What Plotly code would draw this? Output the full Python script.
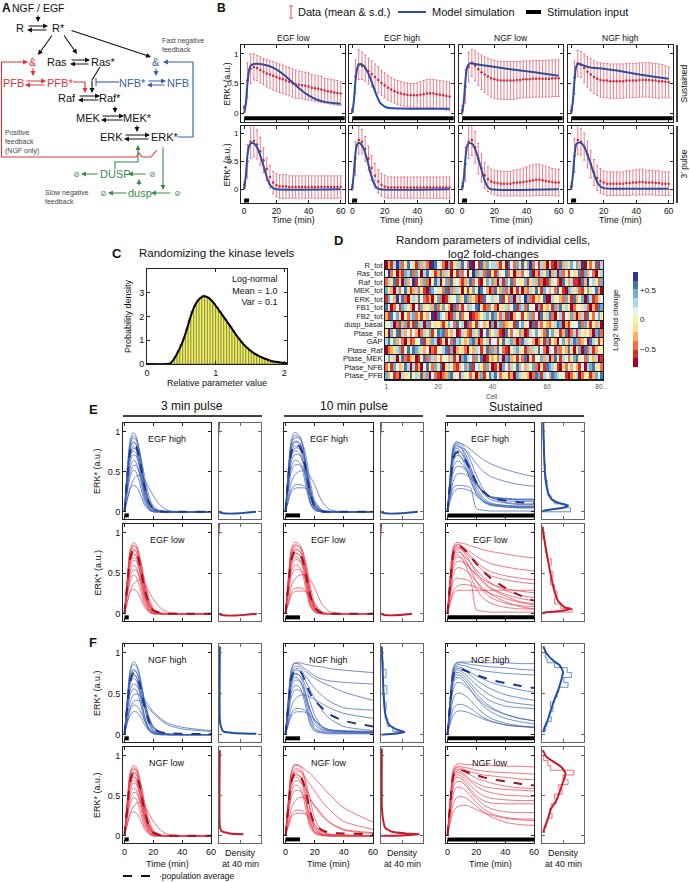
import plotly.graph_objects as go

W, H = 690, 882
FONT = "Liberation Sans, Arial, DejaVu Sans, sans-serif"

# ======================= Panel B data =======================
B_T = [0, 2, 4, 6, 8, 10, 12, 14, 16, 18, 20, 22, 24, 26, 28, 30, 32, 34, 36, 38, 40, 42, 44, 46, 48, 50, 52, 54, 56, 58, 60]
B_COL_TITLES = ["EGF low", "EGF high", "NGF low", "NGF high"]
B_ROW_TITLES = ["Sustained", "3' pulse"]

B_EGF_LOW_SUST_MEAN = [0.10, 0.55, 0.75, 0.78, 0.76, 0.73, 0.70, 0.67, 0.65, 0.63, 0.61, 0.59, 0.57, 0.55, 0.53, 0.51, 0.49, 0.48, 0.47, 0.46, 0.45, 0.43, 0.42, 0.41, 0.40, 0.38, 0.37, 0.36, 0.35, 0.34, 0.33]
B_EGF_LOW_SUST_SD = [0.03, 0.30, 0.25, 0.22, 0.21, 0.22, 0.22, 0.23, 0.23, 0.24, 0.24, 0.24, 0.24, 0.24, 0.24, 0.24, 0.24, 0.23, 0.23, 0.23, 0.23, 0.22, 0.22, 0.22, 0.22, 0.21, 0.21, 0.21, 0.21, 0.21, 0.20]
B_EGF_HIGH_SUST_MEAN = [0.05, 0.62, 0.82, 0.80, 0.76, 0.71, 0.66, 0.61, 0.56, 0.51, 0.47, 0.43, 0.40, 0.37, 0.35, 0.33, 0.32, 0.31, 0.30, 0.30, 0.30, 0.31, 0.32, 0.33, 0.33, 0.33, 0.32, 0.31, 0.30, 0.29, 0.28]
B_EGF_HIGH_SUST_SD = [0.03, 0.28, 0.25, 0.23, 0.22, 0.22, 0.22, 0.22, 0.22, 0.21, 0.21, 0.21, 0.20, 0.20, 0.20, 0.20, 0.20, 0.20, 0.20, 0.20, 0.21, 0.22, 0.23, 0.24, 0.24, 0.24, 0.24, 0.24, 0.24, 0.24, 0.24]
B_NGF_LOW_SUST_MEAN = [0.05, 0.45, 0.78, 0.85, 0.80, 0.74, 0.69, 0.65, 0.62, 0.59, 0.57, 0.56, 0.55, 0.55, 0.55, 0.55, 0.55, 0.56, 0.56, 0.57, 0.57, 0.57, 0.58, 0.58, 0.58, 0.58, 0.58, 0.58, 0.59, 0.59, 0.59]
B_NGF_LOW_SUST_SD = [0.08, 0.28, 0.25, 0.23, 0.25, 0.27, 0.29, 0.30, 0.31, 0.32, 0.32, 0.32, 0.32, 0.32, 0.32, 0.32, 0.32, 0.31, 0.31, 0.31, 0.31, 0.31, 0.31, 0.31, 0.31, 0.31, 0.31, 0.31, 0.31, 0.31, 0.31]
B_NGF_HIGH_SUST_MEAN = [0.05, 0.60, 0.84, 0.82, 0.76, 0.70, 0.65, 0.61, 0.58, 0.56, 0.55, 0.55, 0.54, 0.54, 0.54, 0.54, 0.54, 0.55, 0.55, 0.55, 0.55, 0.56, 0.56, 0.56, 0.56, 0.55, 0.55, 0.54, 0.54, 0.53, 0.52]
B_NGF_HIGH_SUST_SD = [0.06, 0.28, 0.22, 0.22, 0.24, 0.26, 0.27, 0.28, 0.28, 0.29, 0.29, 0.29, 0.29, 0.29, 0.29, 0.29, 0.29, 0.29, 0.29, 0.29, 0.29, 0.29, 0.29, 0.29, 0.29, 0.29, 0.29, 0.29, 0.28, 0.27, 0.26]

B_EGF_LOW_PULSE_MEAN = [0.08, 0.50, 0.85, 0.86, 0.80, 0.68, 0.52, 0.36, 0.22, 0.12, 0.07, 0.05, 0.05, 0.05, 0.04, 0.04, 0.04, 0.04, 0.04, 0.04, 0.04, 0.04, 0.04, 0.04, 0.04, 0.04, 0.04, 0.04, 0.04, 0.04, 0.04]
B_EGF_LOW_PULSE_SD = [0.05, 0.30, 0.30, 0.28, 0.26, 0.25, 0.22, 0.20, 0.20, 0.20, 0.21, 0.21, 0.21, 0.21, 0.20, 0.20, 0.20, 0.20, 0.20, 0.20, 0.20, 0.20, 0.20, 0.20, 0.20, 0.20, 0.20, 0.20, 0.20, 0.20, 0.20]
B_EGF_HIGH_PULSE_MEAN = [0.03, 0.55, 0.88, 0.85, 0.72, 0.55, 0.38, 0.24, 0.14, 0.08, 0.05, 0.03, 0.03, 0.03, 0.03, 0.03, 0.03, 0.03, 0.03, 0.03, 0.03, 0.03, 0.03, 0.03, 0.03, 0.03, 0.03, 0.03, 0.03, 0.03, 0.03]
B_EGF_HIGH_PULSE_SD = [0.05, 0.30, 0.25, 0.22, 0.22, 0.22, 0.22, 0.22, 0.21, 0.20, 0.20, 0.19, 0.19, 0.19, 0.19, 0.19, 0.19, 0.19, 0.19, 0.19, 0.19, 0.19, 0.19, 0.19, 0.19, 0.19, 0.19, 0.19, 0.19, 0.19, 0.19]
B_NGF_LOW_PULSE_MEAN = [0.05, 0.45, 0.85, 0.88, 0.75, 0.55, 0.38, 0.25, 0.18, 0.14, 0.12, 0.11, 0.10, 0.10, 0.10, 0.10, 0.11, 0.12, 0.12, 0.13, 0.14, 0.15, 0.16, 0.17, 0.17, 0.16, 0.15, 0.14, 0.13, 0.12, 0.12]
B_NGF_LOW_PULSE_SD = [0.06, 0.30, 0.30, 0.28, 0.28, 0.27, 0.25, 0.23, 0.22, 0.22, 0.22, 0.22, 0.22, 0.22, 0.22, 0.22, 0.23, 0.23, 0.24, 0.25, 0.26, 0.27, 0.28, 0.28, 0.28, 0.27, 0.26, 0.25, 0.24, 0.24, 0.24]
B_NGF_HIGH_PULSE_MEAN = [0.05, 0.60, 0.88, 0.85, 0.76, 0.62, 0.45, 0.30, 0.20, 0.15, 0.12, 0.10, 0.10, 0.10, 0.10, 0.10, 0.10, 0.11, 0.11, 0.12, 0.12, 0.13, 0.13, 0.12, 0.12, 0.12, 0.11, 0.11, 0.10, 0.10, 0.10]
B_NGF_HIGH_PULSE_SD = [0.06, 0.30, 0.26, 0.24, 0.24, 0.24, 0.24, 0.23, 0.22, 0.22, 0.21, 0.21, 0.21, 0.21, 0.21, 0.21, 0.21, 0.22, 0.22, 0.22, 0.23, 0.23, 0.23, 0.22, 0.22, 0.22, 0.22, 0.22, 0.21, 0.21, 0.21]

B_EGF_LOW_SUST_MODEL_T = [0, 1, 2, 3, 4, 6, 10, 15, 20, 25, 30, 35, 40, 45, 50, 55, 60]
B_EGF_LOW_SUST_MODEL_Y = [0, 0.15, 0.50, 0.72, 0.80, 0.83, 0.83, 0.80, 0.74, 0.64, 0.52, 0.40, 0.30, 0.23, 0.19, 0.17, 0.16]
B_EGF_HIGH_SUST_MODEL_T = [0, 1, 2, 3, 4, 5, 7, 9, 11, 13, 15, 17, 20, 23, 27, 35, 60]
B_EGF_HIGH_SUST_MODEL_Y = [0, 0.20, 0.55, 0.75, 0.82, 0.83, 0.80, 0.72, 0.60, 0.45, 0.30, 0.18, 0.11, 0.085, 0.08, 0.075, 0.075]
B_NGF_LOW_SUST_MODEL_T = [0, 1, 2, 3, 4, 5, 8, 15, 30, 45, 60]
B_NGF_LOW_SUST_MODEL_Y = [0, 0.20, 0.55, 0.77, 0.82, 0.84, 0.83, 0.80, 0.74, 0.69, 0.63]
B_NGF_HIGH_SUST_MODEL_T = [0, 1, 2, 3, 4, 5, 8, 12, 20, 30, 40, 50, 60]
B_NGF_HIGH_SUST_MODEL_Y = [0, 0.20, 0.55, 0.78, 0.83, 0.83, 0.80, 0.77, 0.75, 0.71, 0.66, 0.62, 0.58]
B_EGF_LOW_PULSE_MODEL_T = [0, 1, 2, 3, 4, 6, 8, 10, 12, 14, 16, 18, 20, 60]
B_EGF_LOW_PULSE_MODEL_Y = [0, 0.25, 0.60, 0.77, 0.82, 0.82, 0.75, 0.60, 0.42, 0.22, 0.08, 0.02, 0.0, 0.0]
B_EGF_HIGH_PULSE_MODEL_T = [0, 1, 2, 3, 4, 5, 7, 9, 11, 13, 15, 17, 60]
B_EGF_HIGH_PULSE_MODEL_Y = [0, 0.30, 0.65, 0.80, 0.83, 0.82, 0.73, 0.55, 0.32, 0.13, 0.03, 0.0, 0.0]
B_NGF_LOW_PULSE_MODEL_T = [0, 1, 2, 3, 4, 6, 8, 10, 12, 14, 16, 18, 60]
B_NGF_LOW_PULSE_MODEL_Y = [0, 0.20, 0.55, 0.77, 0.82, 0.82, 0.72, 0.55, 0.35, 0.15, 0.04, 0.0, 0.0]
B_NGF_HIGH_PULSE_MODEL_T = [0, 1, 2, 3, 4, 6, 8, 10, 12, 14, 16, 18, 20, 25, 60]
B_NGF_HIGH_PULSE_MODEL_Y = [0, 0.25, 0.60, 0.80, 0.83, 0.83, 0.76, 0.62, 0.45, 0.28, 0.13, 0.05, 0.02, 0.01, 0.01]

B_STIM_SUSTAINED = [0, 62.5]
B_STIM_PULSE = [0, 3]

# ======================= Panel C data =======================
C_BIN_CENTERS = [0.02, 0.06, 0.10, 0.14, 0.18, 0.22, 0.26, 0.30, 0.34, 0.38, 0.42, 0.46, 0.50, 0.54, 0.58, 0.62, 0.66, 0.70, 0.74, 0.78, 0.82, 0.86, 0.90, 0.94, 0.98, 1.02, 1.06, 1.10, 1.14, 1.18, 1.22, 1.26, 1.30, 1.34, 1.38, 1.42, 1.46, 1.50, 1.54, 1.58, 1.62, 1.66, 1.70, 1.74, 1.78, 1.82, 1.86, 1.90, 1.94, 1.98, 2.02]
C_BIN_HEIGHTS = [0, 0, 0, 0, 0, 0, 0, 0.005, 0.03, 0.14, 0.33, 0.58, 0.82, 1.10, 1.47, 1.86, 2.22, 2.45, 2.68, 2.80, 2.90, 2.83, 2.80, 2.66, 2.55, 2.40, 2.22, 2.05, 1.90, 1.72, 1.58, 1.40, 1.22, 1.08, 0.95, 0.80, 0.70, 0.58, 0.50, 0.42, 0.36, 0.30, 0.24, 0.20, 0.16, 0.13, 0.10, 0.08, 0.06, 0.05, 0.04]
C_PDF_X = [0.0, 0.30, 0.34, 0.38, 0.43, 0.48, 0.53, 0.58, 0.63, 0.68, 0.72, 0.77, 0.83, 0.88, 0.94, 1.01, 1.10, 1.20, 1.30, 1.40, 1.50, 1.60, 1.70, 1.80, 1.90, 2.00, 2.04]
C_PDF_Y = [0.0, 0.0, 0.03, 0.15, 0.39, 0.68, 1.02, 1.45, 1.95, 2.35, 2.58, 2.76, 2.85, 2.82, 2.68, 2.42, 2.05, 1.65, 1.22, 0.85, 0.58, 0.38, 0.24, 0.14, 0.08, 0.04, 0.03]

# ======================= Panel D data =======================
D_PARAMS = ["R_tot", "Ras_tot", "Raf_tot", "MEK_tot", "ERK_tot", "FB1_tot", "FB2_tot", "dusp_basal",
            "Ptase_R", "GAP", "Ptase_Raf", "Ptase_MEK", "Ptase_NFB", "Ptase_PFB"]
# colour level per cell (0 = most negative ... a = most positive), 80 cells per row
D_LEVELS = [
    "0317a82596 4183720a96 5208147396 2a06193857 7315096284 948a261730 5102937486 83a0524917",
    "6a25031879 2850796413 9374051826 05a8372914 1846925037 2659031748 a370825164 4918362057",
    "2749150836 a163820597 0582946313 7926105848 3071859264 5814739201 8462095371 1093a67428",
    "8530726941 3725109864 6291837405 1485a96302 9538270416 0327495186 3629510874 7215846930",
    "1863a49205 7496213058 2017568349 8342019657 4691528073 6a82143590 0756328419 3580971246",
    "9402618753 0618457392 4853092716 3769a41285 2054736918 7295608143 6183947502 5647203198",
    "3196840527 8241536a09 7630184925 6012357849 8427190365 1538260947 9205716483 0371952684",
    "5670293814 1937082645 3148629570 9251763408 0782345196 8460917253 2479803156 6928415370",
    "4085917362 6302748159 8925360174 2174806935 7310952648 3017586429 5846139027 1754630892",
    "7958362041 2569143870 1406297853 4893025716 6159478302 9746302518 1530684279 8236097514",
    "0234781596 9874360215 6791803542 0537614928 3962105784 5183749620 7618253940 4809271365",
    "6847059213 4015928736 2563714089 7628490153 5270893416 2904165837 0395176248 9462853701",
    "2518634970 7130695284 9047521368 3916752840 1408627593 6375820419 8751042636 3160789452",
    "8361207459 5749380621 0238946175 6240381597 9624513087 4530298176 3987561024 7025413869",
]
D_TICKVALS = [1, 20, 40, 60, 80]
D_TICKTEXT = ["1", "20", "40", "60", "80..."]
D_COLORS = ["#a50026", "#d73027", "#f46d43", "#fdae61", "#fee090", "#f7f0a8",
            "#e0f3f8", "#abd9e9", "#74add1", "#4575b4", "#313695"]

# ======================= Panels E / F data =======================
T_P = [0, 2, 4, 6, 8, 10, 12, 14, 17, 20, 25, 30, 40, 60]
T_S = [0, 2, 4, 6, 8, 10, 13, 16, 20, 25, 30, 40, 50, 60]

E_P3_HIGH = [
    [0, .55, .90, .99, .95, .80, .58, .35, .12, .03, 0, 0, 0, 0],
    [0, .52, .86, .95, .92, .78, .56, .34, .12, .03, 0, 0, 0, 0],
    [0, .50, .84, .92, .90, .80, .63, .44, .20, .07, .01, 0, 0, 0],
    [0, .48, .80, .88, .85, .70, .48, .27, .08, .02, 0, 0, 0, 0],
    [0, .46, .78, .86, .84, .73, .55, .35, .13, .04, 0, 0, 0, 0],
    [0, .44, .74, .82, .78, .63, .42, .22, .06, .01, 0, 0, 0, 0],
    [0, .42, .71, .79, .78, .68, .52, .34, .14, .05, .01, 0, 0, 0],
    [0, .40, .68, .76, .73, .59, .38, .19, .05, .01, 0, 0, 0, 0],
    [0, .37, .63, .71, .70, .61, .46, .30, .12, .04, 0, 0, 0, 0],
    [0, .32, .56, .64, .62, .50, .32, .16, .04, 0, 0, 0, 0, 0],
    [0, .28, .50, .58, .58, .51, .39, .25, .10, .03, 0, 0, 0, 0],
    [0, .24, .44, .52, .50, .40, .25, .12, .03, 0, 0, 0, 0, 0],
    [0, .15, .30, .39, .44, .46, .45, .40, .30, .20, .08, .02, 0, 0],
    [0, .16, .29, .33, .32, .26, .17, .08, .02, 0, 0, 0, 0, 0],
]
E_P3_HIGH_AVG = [0, .42, .75, .84, .82, .70, .51, .32, .12, .04, .01, 0, 0, 0]

E_P3_LOW = [
    [0, .45, .80, .88, .86, .76, .58, .38, .15, .05, .01, 0, 0, 0],
    [0, .43, .77, .85, .83, .72, .52, .32, .11, .03, 0, 0, 0, 0],
    [0, .42, .75, .83, .82, .74, .60, .42, .20, .07, .01, 0, 0, 0],
    [0, .40, .72, .80, .78, .66, .46, .26, .08, .02, 0, 0, 0, 0],
    [0, .39, .70, .78, .77, .68, .52, .34, .13, .04, 0, 0, 0, 0],
    [0, .37, .67, .75, .72, .60, .40, .21, .06, .01, 0, 0, 0, 0],
    [0, .36, .65, .73, .72, .64, .50, .33, .14, .05, .01, 0, 0, 0],
    [0, .34, .62, .70, .68, .56, .37, .19, .05, .01, 0, 0, 0, 0],
    [0, .32, .58, .66, .65, .57, .44, .29, .12, .04, 0, 0, 0, 0],
    [0, .28, .52, .60, .58, .47, .30, .15, .04, 0, 0, 0, 0, 0],
    [0, .25, .46, .54, .54, .48, .37, .24, .10, .03, 0, 0, 0, 0],
    [0, .22, .40, .48, .46, .37, .23, .11, .03, 0, 0, 0, 0, 0],
    [0, .14, .28, .36, .40, .42, .41, .37, .28, .18, .07, .02, 0, 0],
    [0, .15, .27, .30, .29, .24, .16, .08, .02, 0, 0, 0, 0, 0],
]
E_P3_LOW_AVG = [0, .36, .68, .78, .76, .66, .49, .31, .12, .04, .01, 0, 0, 0]

E_P10_HIGH = [
    [0, .55, .90, .99, .98, .94, .82, .60, .24, .06, 0, 0, 0, 0],
    [0, .52, .86, .95, .95, .92, .80, .58, .22, .05, 0, 0, 0, 0],
    [0, .50, .84, .92, .93, .91, .84, .70, .38, .14, .02, 0, 0, 0],
    [0, .48, .80, .88, .88, .85, .73, .51, .18, .04, 0, 0, 0, 0],
    [0, .46, .78, .86, .87, .85, .77, .61, .29, .09, .01, 0, 0, 0],
    [0, .44, .74, .82, .82, .78, .66, .44, .13, .03, 0, 0, 0, 0],
    [0, .42, .71, .79, .80, .78, .72, .58, .30, .10, .01, 0, 0, 0],
    [0, .40, .68, .76, .76, .72, .60, .39, .12, .02, 0, 0, 0, 0],
    [0, .37, .63, .71, .72, .70, .64, .52, .26, .08, .01, 0, 0, 0],
    [0, .32, .56, .64, .64, .61, .50, .32, .10, .02, 0, 0, 0, 0],
    [0, .28, .50, .58, .59, .58, .54, .44, .23, .08, .01, 0, 0, 0],
    [0, .20, .37, .45, .49, .51, .51, .50, .44, .34, .13, .03, 0, 0],
    [0, .15, .28, .33, .34, .34, .33, .30, .19, .06, 0, 0, 0, 0],
    [0, .13, .25, .29, .30, .30, .30, .29, .23, .12, .02, 0, 0, 0],
]
E_P10_HIGH_AVG = [0, .42, .74, .84, .84, .81, .71, .53, .23, .07, .01, 0, 0, 0]

E_P10_LOW = [
    [0, .45, .80, .88, .88, .85, .76, .58, .25, .07, .01, 0, 0, 0],
    [0, .43, .77, .85, .85, .82, .72, .52, .20, .05, 0, 0, 0, 0],
    [0, .42, .75, .83, .84, .82, .76, .64, .35, .13, .02, 0, 0, 0],
    [0, .40, .72, .80, .80, .77, .66, .46, .16, .04, 0, 0, 0, 0],
    [0, .39, .70, .78, .79, .77, .70, .56, .27, .09, .01, 0, 0, 0],
    [0, .37, .67, .75, .75, .71, .60, .40, .12, .03, 0, 0, 0, 0],
    [0, .36, .65, .73, .74, .72, .66, .54, .28, .10, .01, 0, 0, 0],
    [0, .34, .62, .70, .70, .66, .55, .36, .11, .02, 0, 0, 0, 0],
    [0, .32, .58, .66, .67, .65, .59, .48, .24, .08, .01, 0, 0, 0],
    [0, .28, .52, .60, .60, .57, .47, .30, .09, .02, 0, 0, 0, 0],
    [0, .25, .46, .54, .55, .54, .50, .41, .22, .08, .01, 0, 0, 0],
    [0, .18, .34, .42, .46, .48, .48, .47, .42, .32, .12, .03, 0, 0],
    [0, .14, .26, .31, .32, .32, .31, .28, .18, .06, 0, 0, 0, 0],
    [0, .12, .23, .27, .28, .28, .28, .27, .22, .12, .02, 0, 0, 0],
]
E_P10_LOW_AVG = [0, .35, .66, .76, .77, .74, .65, .49, .22, .07, .01, 0, 0, 0]

E_S_HIGH = [
    [0, .48, .82, .88, .87, .84, .76, .64, .46, .28, .18, .12, .10, .10],
    [0, .46, .80, .86, .86, .85, .82, .78, .72, .65, .60, .53, .48, .44],
    [0, .45, .78, .85, .84, .80, .70, .56, .38, .22, .15, .11, .09, .09],
    [0, .43, .76, .83, .82, .78, .66, .50, .31, .17, .11, .08, .07, .07],
    [0, .42, .74, .81, .81, .80, .76, .70, .60, .50, .44, .38, .34, .32],
    [0, .40, .72, .79, .78, .73, .61, .45, .27, .15, .10, .08, .07, .07],
    [0, .38, .69, .76, .76, .73, .65, .54, .38, .25, .18, .14, .13, .13],
    [0, .36, .66, .73, .72, .67, .55, .39, .22, .12, .08, .06, .05, .05],
    [0, .34, .62, .70, .70, .67, .60, .50, .36, .24, .18, .16, .15, .15],
    [0, .30, .55, .63, .63, .60, .52, .40, .24, .13, .09, .07, .06, .06],
    [0, .26, .48, .56, .57, .56, .52, .45, .34, .24, .19, .17, .16, .16],
    [0, .20, .38, .46, .48, .48, .46, .42, .34, .25, .19, .16, .15, .15],
    [0, .18, .30, .33, .33, .33, .32, .30, .04, .02, .01, .01, .01, .01],
    [0, .14, .24, .28, .29, .29, .28, .26, .20, .13, .09, .06, .05, .05],
]
E_S_HIGH_AVG = [0, .36, .66, .74, .74, .71, .63, .52, .37, .25, .18, .14, .12, .11]

E_S_LOW = [
    [0, .48, .82, .88, .88, .87, .86, .84, .82, .79, .77, .74, .71, .69],
    [0, .46, .80, .86, .86, .84, .80, .76, .71, .66, .62, .58, .55, .53],
    [0, .45, .78, .85, .85, .83, .78, .72, .64, .57, .52, .47, .44, .42],
    [0, .43, .76, .83, .82, .79, .72, .63, .51, .40, .32, .24, .19, .16],
    [0, .42, .74, .81, .81, .79, .75, .69, .61, .53, .47, .42, .39, .37],
    [0, .40, .72, .79, .78, .74, .65, .54, .40, .28, .20, .13, .10, .09],
    [0, .38, .69, .76, .76, .74, .69, .63, .54, .45, .38, .29, .23, .20],
    [0, .36, .66, .73, .72, .68, .58, .46, .31, .19, .13, .08, .06, .06],
    [0, .34, .62, .70, .70, .68, .63, .56, .47, .38, .31, .22, .15, .12],
    [0, .30, .56, .64, .65, .64, .61, .56, .49, .42, .37, .31, .28, .26],
    [0, .26, .48, .56, .57, .56, .53, .48, .40, .31, .24, .15, .09, .06],
    [0, .22, .40, .44, .44, .43, .42, .40, .05, .03, .02, .02, .02, .02],
    [0, .14, .24, .28, .29, .29, .29, .29, .29, .29, .29, .29, .29, .29],
    [0, .16, .28, .33, .35, .36, .36, .35, .33, .29, .25, .19, .14, .11],
]
E_S_LOW_AVG = [0, .40, .74, .83, .84, .82, .77, .71, .62, .52, .44, .32, .23, .16]

F_P3_HIGH = [
    [0, .45, .80, .89, .87, .78, .60, .40, .16, .05, .01, 0, 0, 0],
    [0, .43, .77, .86, .84, .75, .58, .40, .18, .07, .02, 0, 0, 0],
    [0, .41, .73, .80, .78, .68, .50, .32, .12, .04, .01, 0, 0, 0],
    [0, .40, .70, .78, .77, .70, .57, .42, .22, .10, .03, .01, 0, 0],
    [0, .38, .68, .75, .72, .60, .41, .23, .07, .02, 0, 0, 0, 0],
    [0, .36, .64, .72, .71, .64, .52, .38, .20, .09, .03, .01, 0, 0],
    [0, .34, .62, .69, .67, .56, .38, .21, .07, .02, 0, 0, 0, 0],
    [0, .31, .55, .62, .61, .55, .45, .33, .18, .09, .03, .01, 0, 0],
    [0, .28, .49, .56, .55, .46, .31, .17, .05, .01, 0, 0, 0, 0],
    [0, .22, .40, .48, .50, .49, .46, .42, .35, .28, .20, .14, .09, .05],
    [0, .18, .33, .40, .42, .42, .40, .37, .32, .26, .18, .12, .07, .04],
    [0, .17, .30, .36, .36, .32, .25, .17, .08, .03, .01, 0, 0, 0],
    [0, .14, .24, .28, .28, .25, .19, .12, .05, .02, .01, 0, 0, 0],
]
F_P3_HIGH_AVG = [0, .36, .65, .75, .74, .65, .50, .34, .16, .07, .03, .02, .01, .01]

F_P3_LOW = E_P3_LOW
F_P3_LOW_AVG = E_P3_LOW_AVG

F_P10_HIGH = [
    [0, .45, .80, .88, .88, .88, .87, .86, .85, .84, .83, .81, .79, .76],
    [0, .44, .79, .87, .87, .86, .83, .80, .76, .72, .68, .66, .64, .62],
    [0, .42, .75, .83, .84, .83, .80, .77, .73, .69, .64, .60, .52, .42],
    [0, .40, .72, .80, .81, .80, .76, .71, .64, .57, .48, .41, .33, .30],
    [0, .39, .70, .78, .79, .77, .72, .65, .55, .44, .30, .20, .10, .05],
    [0, .37, .67, .75, .75, .72, .63, .48, .22, .08, .04, .03, .02, .02],
    [0, .36, .65, .73, .74, .72, .67, .58, .40, .24, .10, .06, .04, .03],
    [0, .34, .62, .70, .70, .66, .56, .40, .16, .06, .03, .02, .02, .02],
    [0, .32, .58, .66, .67, .65, .59, .49, .30, .16, .07, .05, .04, .03],
    [0, .28, .52, .60, .60, .57, .48, .33, .12, .04, .02, .01, .01, .01],
    [0, .25, .46, .54, .55, .54, .50, .43, .30, .18, .09, .06, .05, .04],
    [0, .18, .34, .42, .46, .48, .49, .48, .46, .43, .38, .33, .26, .20],
    [0, .14, .26, .31, .32, .32, .31, .29, .22, .12, .06, .04, .03, .03],
    [0, .12, .23, .27, .28, .28, .28, .27, .24, .18, .10, .06, .04, .03],
]
F_P10_HIGH_AVG = [0, .36, .68, .78, .80, .78, .72, .63, .50, .42, .33, .25, .17, .10]

F_P10_LOW = [
    [0, .45, .80, .89, .89, .87, .80, .64, .30, .10, .02, .01, 0, 0],
    [0, .44, .79, .87, .88, .87, .85, .82, .78, .72, .62, .52, .35, .17],
    [0, .42, .75, .83, .84, .82, .76, .66, .45, .22, .06, .02, .01, 0],
    [0, .40, .72, .80, .81, .80, .77, .72, .64, .56, .43, .33, .18, .08],
    [0, .39, .70, .78, .78, .75, .66, .48, .18, .05, .01, 0, 0, 0],
    [0, .37, .67, .75, .76, .74, .68, .57, .33, .14, .03, .01, 0, 0],
    [0, .36, .65, .73, .73, .70, .60, .42, .14, .04, .01, 0, 0, 0],
    [0, .33, .60, .68, .69, .68, .64, .58, .47, .37, .25, .17, .08, .04],
    [0, .30, .55, .63, .63, .60, .50, .33, .10, .03, 0, 0, 0, 0],
    [0, .26, .48, .56, .57, .56, .51, .43, .24, .10, .02, 0, 0, 0],
    [0, .18, .34, .42, .46, .48, .48, .47, .44, .38, .27, .17, .07, .03],
    [0, .14, .26, .31, .32, .32, .31, .28, .18, .07, .01, 0, 0, 0],
    [0, .12, .23, .27, .28, .28, .28, .27, .23, .14, .05, .02, .01, 0],
]
F_P10_LOW_AVG = [0, .36, .67, .77, .78, .76, .68, .55, .30, .15, .07, .04, .03, .02]

F_S_HIGH = [
    [0, .47, .82, .88, .89, .89, .89, .89, .89, .88, .88, .88, .87, .87],
    [0, .46, .80, .87, .88, .88, .87, .86, .85, .84, .83, .82, .80, .79],
    [0, .45, .78, .85, .86, .85, .84, .82, .80, .78, .77, .75, .74, .73],
    [0, .43, .76, .83, .83, .82, .79, .76, .72, .68, .64, .59, .55, .52],
    [0, .42, .74, .81, .81, .80, .77, .73, .67, .61, .56, .49, .45, .42],
    [0, .40, .72, .79, .79, .77, .73, .68, .61, .54, .48, .41, .38, .36],
    [0, .38, .69, .76, .76, .74, .69, .63, .55, .47, .41, .35, .33, .32],
    [0, .36, .66, .73, .73, .71, .66, .59, .50, .41, .34, .25, .20, .17],
    [0, .34, .62, .70, .70, .68, .62, .55, .45, .35, .28, .20, .16, .13],
    [0, .30, .55, .63, .64, .63, .59, .54, .46, .38, .32, .25, .20, .17],
    [0, .24, .44, .50, .51, .50, .47, .42, .34, .26, .20, .14, .11, .09],
    [0, .18, .32, .36, .37, .37, .35, .32, .27, .21, .17, .12, .10, .09],
    [0, .14, .24, .28, .29, .29, .28, .26, .23, .19, .16, .12, .10, .09],
]
F_S_HIGH_AVG = [0, .40, .72, .80, .81, .80, .78, .76, .73, .70, .67, .63, .60, .57]

F_S_LOW = [
    [0, .48, .83, .89, .90, .90, .89, .89, .88, .88, .88, .87, .87, .86],
    [0, .46, .80, .87, .87, .86, .85, .84, .82, .81, .80, .79, .78, .77],
    [0, .45, .78, .85, .85, .84, .82, .80, .78, .76, .75, .73, .71, .70],
    [0, .43, .76, .83, .83, .82, .79, .76, .72, .69, .66, .62, .60, .59],
    [0, .42, .74, .81, .81, .79, .75, .70, .66, .62, .60, .58, .57, .56],
    [0, .40, .72, .79, .79, .77, .73, .68, .62, .57, .54, .51, .50, .49],
    [0, .38, .69, .76, .76, .74, .69, .63, .56, .50, .47, .45, .44, .44],
    [0, .36, .66, .73, .73, .71, .65, .58, .50, .44, .41, .40, .40, .40],
    [0, .33, .60, .67, .68, .67, .62, .55, .47, .39, .34, .30, .29, .29],
    [0, .28, .52, .60, .61, .60, .56, .50, .42, .34, .28, .23, .21, .21],
    [0, .22, .40, .47, .49, .49, .47, .43, .37, .30, .24, .17, .14, .13],
    [0, .17, .30, .35, .37, .38, .38, .36, .33, .29, .26, .22, .20, .19],
]
F_S_LOW_AVG = [0, .42, .75, .82, .83, .82, .80, .78, .76, .73, .71, .68, .65, .63]

# Densities at 40 min (x = relative density, y = ERK*)
DENS_E3H_X = [0, 0, 0.88]
DENS_E3H_Y = [1.11, 0.0, 0.0]
DENS_E3L_X = [0, 0, 0.9]
DENS_E3L_Y = [1.11, 0.0, 0.0]
DENS_E10H_X = [0, 0, 0.88]
DENS_E10H_Y = [1.11, 0.0, 0.0]
DENS_E10L_X = [0, 0, 0.74]
DENS_E10L_Y = [1.11, 0.0, 0.0]
DENS_ESH_X = [0.03, 0.04, 0.05, 0.07, 0.10, 0.15, 0.24, 0.40, 0.62, 0.50, 0.22, 0.05, 0.0]
DENS_ESH_Y = [1.11, 0.90, 0.70, 0.50, 0.35, 0.23, 0.15, 0.11, 0.08, 0.05, 0.03, 0.015, 0.0]
HIST_ESH_X = [0.03, 0.05, 0.04, 0.06, 0.08, 0.07, 0.12, 0.14, 0.22, 0.30, 0.55, 0.68, 0.05]
HIST_ESH_Y = [1.00, 0.90, 0.80, 0.70, 0.60, 0.50, 0.40, 0.30, 0.20, 0.15, 0.10, 0.05, 0.0]
DENS_ESL_X = [0.01, 0.05, 0.10, 0.16, 0.22, 0.29, 0.38, 0.54, 0.70, 0.38, 0.06, 0.0]
DENS_ESL_Y = [1.08, 0.94, 0.78, 0.61, 0.45, 0.29, 0.16, 0.08, 0.06, 0.03, 0.016, 0.0]
HIST_ESL_X = [0.02, 0.06, 0.08, 0.12, 0.22, 0.18, 0.26, 0.20, 0.30, 0.36, 0.30, 0.45, 0.72, 0.10]
HIST_ESL_Y = [1.00, 0.92, 0.84, 0.76, 0.68, 0.60, 0.52, 0.44, 0.36, 0.28, 0.20, 0.12, 0.06, 0.02]
DENS_F3H_X = [0.02, 0.02, 0.05, 0.10, 0.34, 0.89]
DENS_F3H_Y = [1.08, 0.18, 0.09, 0.04, 0.02, 0.01]
DENS_F3L_X = [0.02, 0.02, 0.06, 0.26, 0.58]
DENS_F3L_Y = [1.07, 0.12, 0.06, 0.03, 0.02]
DENS_F10H_X = [0.02, 0.04, 0.06, 0.10, 0.18, 0.34, 0.56, 0.30, 0.02]
DENS_F10H_Y = [1.08, 0.79, 0.50, 0.26, 0.13, 0.07, 0.03, 0.01, 0.0]
HIST_F10H_X = [0.02, 0.05, 0.12, 0.06, 0.14, 0.08, 0.12, 0.10, 0.16, 0.28, 0.55]
HIST_F10H_Y = [1.00, 0.90, 0.80, 0.70, 0.60, 0.50, 0.40, 0.30, 0.20, 0.10, 0.04]
DENS_F10L_X = [0.02, 0.02, 0.05, 0.10, 0.26, 0.58, 0.91, 0.50, 0.0]
DENS_F10L_Y = [1.09, 0.37, 0.20, 0.10, 0.05, 0.03, 0.02, 0.005, 0.0]
DENS_FSH_X = [0.03, 0.10, 0.26, 0.42, 0.50, 0.46, 0.38, 0.29, 0.21, 0.13, 0.06, 0.03]
DENS_FSH_Y = [1.08, 1.00, 0.91, 0.85, 0.77, 0.67, 0.54, 0.42, 0.30, 0.17, 0.09, 0.03]
HIST_FSH_X = [0.08, 0.12, 0.30, 0.60, 0.70, 0.52, 0.62, 0.40, 0.36, 0.30, 0.20, 0.26, 0.18, 0.22, 0.12, 0.08, 0.03]
HIST_FSH_Y = [1.00, 0.94, 0.88, 0.82, 0.76, 0.70, 0.64, 0.58, 0.52, 0.46, 0.40, 0.34, 0.28, 0.22, 0.16, 0.10, 0.04]
DENS_FSL_X = [0.02, 0.10, 0.26, 0.46, 0.56, 0.52, 0.44, 0.35, 0.21, 0.14, 0.06, 0.03]
DENS_FSL_Y = [1.07, 0.99, 0.93, 0.86, 0.78, 0.70, 0.58, 0.45, 0.33, 0.21, 0.10, 0.04]
HIST_FSL_X = [0.04, 0.14, 0.20, 0.76, 0.50, 0.62, 0.40, 0.48, 0.30, 0.34, 0.22, 0.18, 0.24, 0.12, 0.10, 0.06, 0.03]
HIST_FSL_Y = [1.00, 0.94, 0.88, 0.82, 0.76, 0.70, 0.64, 0.58, 0.52, 0.46, 0.40, 0.34, 0.28, 0.22, 0.16, 0.10, 0.04]

STIM_3 = [0, 3]
STIM_10 = [0, 10]
STIM_SUST = [0, 60]

# ======================= helpers =======================
RED = "#e0333c"
BLUE = "#3a5fae"
GREEN = "#3b8a4b"
GREY = "#444444"
MODEL_BLUE = "#2b4f9e"

fig = go.Figure()
ANN = []
SHAPES = []
AXES = {}
_count = [0]

BASE = dict(showline=True, linecolor="#222", linewidth=1, mirror="ticks", ticks="inside", ticklen=3,
            tickwidth=1, tickcolor="#222", showgrid=False, zeroline=False, showticklabels=False,
            fixedrange=True)


def make_axes(l, r, t, b, xrange=None, yrange=None, xkw=None, ykw=None):
    _count[0] += 1
    i = _count[0]
    s = "" if i == 1 else str(i)
    xa = dict(BASE)
    xa.update(domain=[l / W, r / W], anchor="y" + s, tickfont=dict(size=8, color="#111", family=FONT))
    ya = dict(BASE)
    ya.update(domain=[1 - b / H, 1 - t / H], anchor="x" + s, tickfont=dict(size=8, color="#111", family=FONT))
    if xrange is not None:
        xa["range"] = xrange
    if yrange is not None:
        ya["range"] = yrange
    if xkw:
        xa.update(xkw)
    if ykw:
        ya.update(ykw)
    AXES["xaxis" + s] = xa
    AXES["yaxis" + s] = ya
    return "x" + s, "y" + s


def txt(x, y, s, size=10, color="#111", bold=False, angle=0, xanchor="center", align="center"):
    if bold:
        s = "<b>" + s + "</b>"
    ANN.append(dict(x=x / W, y=1 - y / H, xref="paper", yref="paper", text=s, showarrow=False,
                    textangle=angle, xanchor=xanchor, yanchor="middle", align=align,
                    font=dict(size=size, color=color, family=FONT)))


def arrow(x0, y0, x1, y1, color="#111", width=1.1, size=0.9):
    ANN.append(dict(x=x1 / W, y=1 - y1 / H, xref="paper", yref="paper", ax=x0 - x1, ay=y0 - y1,
                    axref="pixel", ayref="pixel", text="", showarrow=True, arrowhead=2,
                    arrowsize=size, arrowwidth=width, arrowcolor=color, standoff=0))


def poly(pts, color="#111", width=1.1, dash="solid"):
    path = "M " + " L ".join(f"{x / W:.5f},{1 - y / H:.5f}" for x, y in pts)
    SHAPES.append(dict(type="path", xref="paper", yref="paper", path=path,
                       line=dict(color=color, width=width, dash=dash)))


def rev(x0, x1, y, color="#111"):
    arrow(x0, y - 2, x1, y - 2, color)
    arrow(x1, y + 2, x0, y + 2, color)


# ======================= Panel A (diagram) =======================
txt(7, 8, "A", 12, bold=True)
txt(38, 8, "NGF / EGF", 10.5)
arrow(38, 14, 38, 22)
txt(20, 28, "R", 11)
txt(58, 28, "R*", 11)
rev(27, 48, 28)
arrow(53, 34, 38, 55)
arrow(63, 34, 77, 54)
arrow(70, 30, 151, 57)
txt(57, 62, "Ras", 11)
txt(103, 62, "Ras*", 11)
rev(70, 90, 62)
txt(33, 62, "&amp;", 11, RED)
txt(156, 62, "&amp;", 11, BLUE)
txt(160, 45, "Fast negative<br>feedback", 7, GREY, xanchor="left", align="left")
arrow(33, 67, 33, 76, RED)
txt(14, 83, "PFB", 11, RED)
txt(60, 83, "PFB*", 11, RED)
rev(25, 46, 83, RED)
poly([(73, 82), (85, 82), (85, 86)], RED)
arrow(85, 84, 85, 93, RED)
arrow(156, 67, 156, 76, BLUE)
txt(132, 83, "NFB*", 11, BLUE)
txt(178, 83, "NFB", 11, BLUE)
rev(147, 166, 83, BLUE)
poly([(119, 82), (96, 82)], BLUE)
poly([(96, 78), (96, 86)], BLUE)
poly([(100, 67), (92, 80)])
arrow(92, 79, 92, 93)
txt(67, 98, "Raf", 11)
txt(110, 98, "Raf*", 11)
rev(78, 100, 98)
arrow(115, 105, 115, 113)
txt(88, 118, "MEK", 11)
txt(137, 118, "MEK*", 11)
rev(101, 124, 118)
arrow(137, 124, 137, 132)
txt(112, 137, "ERK", 11)
txt(165, 137, "ERK*", 11)
rev(124, 150, 137)
poly([(178, 137), (193, 137), (193, 62), (170, 62)], BLUE)
arrow(172, 62, 163, 62, BLUE)
poly([(157, 150), (151, 157), (142, 157), (139, 153), (136, 157), (1.5, 157), (1.5, 62), (20, 62)], RED)
arrow(18, 62, 28, 62, RED)
txt(3, 142, "Positive<br>feedback<br>(NGF only)", 7, GREY, xanchor="left", align="left")
arrow(163, 146, 163, 190, GREEN)
arrow(172, 193, 151, 193, GREEN)
txt(140, 193, "dusp", 11, GREEN)
txt(177, 193, "⊘", 8, GREEN)
arrow(128, 193, 108, 193, GREEN)
txt(103, 193, "⊘", 8, GREEN)
arrow(139, 187, 139, 179, GREEN)
txt(115, 174, "DUSP", 11, GREEN)
txt(152, 174, "⊘", 8, GREEN)
txt(76, 174, "⊘", 8, GREEN)
arrow(147, 174, 128, 174, GREEN)
arrow(99, 174, 81, 174, GREEN)
poly([(115, 169), (115, 162), (138, 162), (138, 152)], GREEN)
arrow(138, 154, 138, 145, GREEN)
txt(43, 197, "Slow negative<br>feedback", 7, GREY, xanchor="left", align="left")

# ======================= Panel B =======================
txt(222, 8, "B", 12, bold=True)
poly([(291, 6), (291, 18)], "#e8505f", 1)
poly([(289, 6), (293, 6)], "#e8505f", 1)
poly([(289, 18), (293, 18)], "#e8505f", 1)
txt(296, 12, "Data (mean &amp; s.d.)", 11, xanchor="left")
poly([(398, 12), (426, 12)], MODEL_BLUE, 2)
txt(430, 12, "Model simulation", 11, xanchor="left")
poly([(526, 12), (541, 12)], "#000", 4)
txt(545, 12, "Stimulation input", 11, xanchor="left")

B_COLS = [(241, 345), (349, 454), (459, 563), (568, 673)]
B_ROWS = [(45, 122, [-0.15, 1.15], -0.085, B_STIM_SUSTAINED),
          (126, 203, [-0.245, 1.13], -0.2, B_STIM_PULSE)]
B_SETS = [
    [(B_EGF_LOW_SUST_MEAN, B_EGF_LOW_SUST_SD, B_EGF_LOW_SUST_MODEL_T, B_EGF_LOW_SUST_MODEL_Y),
     (B_EGF_HIGH_SUST_MEAN, B_EGF_HIGH_SUST_SD, B_EGF_HIGH_SUST_MODEL_T, B_EGF_HIGH_SUST_MODEL_Y),
     (B_NGF_LOW_SUST_MEAN, B_NGF_LOW_SUST_SD, B_NGF_LOW_SUST_MODEL_T, B_NGF_LOW_SUST_MODEL_Y),
     (B_NGF_HIGH_SUST_MEAN, B_NGF_HIGH_SUST_SD, B_NGF_HIGH_SUST_MODEL_T, B_NGF_HIGH_SUST_MODEL_Y)],
    [(B_EGF_LOW_PULSE_MEAN, B_EGF_LOW_PULSE_SD, B_EGF_LOW_PULSE_MODEL_T, B_EGF_LOW_PULSE_MODEL_Y),
     (B_EGF_HIGH_PULSE_MEAN, B_EGF_HIGH_PULSE_SD, B_EGF_HIGH_PULSE_MODEL_T, B_EGF_HIGH_PULSE_MODEL_Y),
     (B_NGF_LOW_PULSE_MEAN, B_NGF_LOW_PULSE_SD, B_NGF_LOW_PULSE_MODEL_T, B_NGF_LOW_PULSE_MODEL_Y),
     (B_NGF_HIGH_PULSE_MEAN, B_NGF_HIGH_PULSE_SD, B_NGF_HIGH_PULSE_MODEL_T, B_NGF_HIGH_PULSE_MODEL_Y)],
]
for ri, (t, b, yr, stim_level, stim) in enumerate(B_ROWS):
    for ci, (l, r) in enumerate(B_COLS):
        mean, sd, mt, my = B_SETS[ri][ci]
        xkw = dict(tickvals=[0, 20, 40, 60], showticklabels=(ri == 1),
                   tickfont=dict(size=8.5, color="#111", family=FONT))
        ykw = dict(tickvals=[0, 0.5, 1], showticklabels=(ci == 0))
        xa, ya = make_axes(l, r, t, b, [-2, 62.7], yr, xkw, ykw)
        fig.add_trace(go.Scatter(x=B_T, y=mean, mode="markers", xaxis=xa, yaxis=ya,
                                 marker=dict(size=2.5, color="#d62738"),
                                 error_y=dict(type="data", array=sd, color="rgba(236,95,110,0.8)",
                                              thickness=1, width=1.2),
                                 hoverinfo="skip"))
        fig.add_trace(go.Scatter(x=mt, y=my, mode="lines", xaxis=xa, yaxis=ya,
                                 line=dict(color=MODEL_BLUE, width=2, shape="spline", smoothing=0.6),
                                 hoverinfo="skip"))
        fig.add_trace(go.Scatter(x=stim, y=[stim_level, stim_level], mode="lines", xaxis=xa, yaxis=ya,
                                 line=dict(color="#000", width=4), hoverinfo="skip"))
        if ri == 0:
            txt((l + r) / 2, 38, B_COL_TITLES[ci], 8.5)
        else:
            txt((l + r) / 2, 220, "Time (min)", 9)
    txt(226, (t + b) / 2, "ERK* (a.u.)", 8.5, angle=-90)
    txt(683, (t + b) / 2, B_ROW_TITLES[ri], 8.5, angle=-90)
    poly([(677, t), (677, b)], "#000", 1.5)

# ======================= Panel C =======================
txt(117, 253, "C", 13, bold=True)
txt(137, 253, "Randomizing the kinase levels", 11.5, xanchor="left")
xa, ya = make_axes(147, 287, 269, 364, [0, 2.04], [0, 4],
                   dict(tickvals=[0, 1, 2], showticklabels=True, tickfont=dict(size=9, color="#111", family=FONT)),
                   dict(tickvals=[0, 1, 2, 3], showticklabels=True, tickfont=dict(size=9, color="#111", family=FONT)))
fig.add_trace(go.Bar(x=C_BIN_CENTERS, y=C_BIN_HEIGHTS, width=0.04, xaxis=xa, yaxis=ya,
                     marker=dict(color="#f0f05a", line=dict(color="#2a2a2a", width=0.4)), hoverinfo="skip"))
fig.add_trace(go.Scatter(x=C_PDF_X, y=C_PDF_Y, mode="lines", xaxis=xa, yaxis=ya,
                         line=dict(color="#000", width=2, shape="spline", smoothing=0.6), hoverinfo="skip"))
txt(280, 290, "Log-normal<br>Mean = 1.0<br>Var = 0.1", 9, xanchor="right", align="right")
txt(128, 316, "Probability density", 9, angle=-90)
txt(217, 383, "Relative parameter value", 9)

# ======================= Panel D =======================
txt(338, 240, "D", 13, bold=True)
txt(493, 240, "Random parameters of individial cells,", 11.5)
txt(493, 254, "log2 fold-changes", 11.5)
D_Z = [[-0.8 + (int(c, 16) + 0.5) * 1.6 / 11 for c in row.replace(" ", "")] for row in D_LEVELS]
D_CELLS = list(range(1, len(D_Z[0]) + 1))
cs = []
for i, c in enumerate(D_COLORS):
    cs.append([i / len(D_COLORS), c])
    cs.append([(i + 1) / len(D_COLORS), c])
xa, ya = make_axes(385, 603, 261, 380, [0.5, 80.5], None,
                   dict(tickvals=D_TICKVALS, ticktext=D_TICKTEXT, showticklabels=True, ticks="",
                        mirror=True, tickfont=dict(size=6.5, color="#555", family=FONT)),
                   dict(autorange="reversed", showticklabels=True, ticks="", mirror=True,
                        tickmode="array", tickvals=D_PARAMS, ticktext=D_PARAMS,
                        tickfont=dict(size=7.5, color="#222", family=FONT)))
SHAPES.append(dict(type="rect", xref=xa + " domain", yref=ya + " domain", x0=0, x1=1, y0=0, y1=1,
                   fillcolor="#111", line=dict(width=0), layer="below"))
fig.add_trace(go.Heatmap(z=D_Z, x=D_CELLS, y=D_PARAMS, xaxis=xa, yaxis=ya, colorscale=cs,
                         zmin=-0.8, zmax=0.8, ygap=1, hoverinfo="skip",
                         colorbar=dict(x=623 / W, xanchor="left", y=1 - 262 / H, yanchor="top",
                                       len=115 / H, lenmode="fraction", thickness=5, outlinewidth=0,
                                       tickvals=[-0.5, 0, 0.5], ticktext=["\u22120.5", "0", "+0.5"],
                                       ticks="", tickfont=dict(size=8, color="#111", family=FONT))))
txt(492, 396, "Cell", 6.5, "#444")
txt(615, 320, "Log2 fold change", 8, angle=-90)

# ======================= Panels E / F =======================
txt(93, 409, "E", 13, bold=True)
txt(93, 642, "F", 13, bold=True)
txt(192, 406, "3 min pulse", 12)
txt(354, 406, "10 min pulse", 12)
txt(515, 407, "Sustained", 12)
poly([(123, 416), (262, 416)], "#000", 1.5)
poly([(284, 416), (423, 416)], "#000", 1.5)
poly([(446, 416), (584, 416)], "#000", 1.5)

EF_ROWS = [(423, 519), (524, 621), (644, 742), (747, 843)]
EF_COLS = [(123, 211, 219, 261), (284, 373, 381, 423), (446, 534, 542, 584)]
CELL_BLUE = "rgba(62,96,182,0.72)"
CELL_RED = "rgba(234,62,78,0.72)"
AVG_BLUE = "#1c3a8a"
AVG_RED = "#a3121f"
DENS_BLUE = "#24509f"
DENS_RED = "#c41e2c"
HIST_BLUE = "rgba(80,120,200,0.85)"
HIST_RED = "rgba(235,90,100,0.85)"

EF_PANELS = [
    # row, col, traces, avg, time, color, dens x, dens y, hist x, hist y, stim, label
    (0, 0, E_P3_HIGH, E_P3_HIGH_AVG, T_P, "b", DENS_E3H_X, DENS_E3H_Y, None, None, STIM_3, "EGF high"),
    (0, 1, E_P10_HIGH, E_P10_HIGH_AVG, T_P, "b", DENS_E10H_X, DENS_E10H_Y, None, None, STIM_10, "EGF high"),
    (0, 2, E_S_HIGH, E_S_HIGH_AVG, T_S, "b", DENS_ESH_X, DENS_ESH_Y, HIST_ESH_X, HIST_ESH_Y, STIM_SUST, "EGF high"),
    (1, 0, E_P3_LOW, E_P3_LOW_AVG, T_P, "r", DENS_E3L_X, DENS_E3L_Y, None, None, STIM_3, "EGF low"),
    (1, 1, E_P10_LOW, E_P10_LOW_AVG, T_P, "r", DENS_E10L_X, DENS_E10L_Y, None, None, STIM_10, "EGF low"),
    (1, 2, E_S_LOW, E_S_LOW_AVG, T_S, "r", DENS_ESL_X, DENS_ESL_Y, HIST_ESL_X, HIST_ESL_Y, STIM_SUST, "EGF low"),
    (2, 0, F_P3_HIGH, F_P3_HIGH_AVG, T_P, "b", DENS_F3H_X, DENS_F3H_Y, None, None, STIM_3, "NGF high"),
    (2, 1, F_P10_HIGH, F_P10_HIGH_AVG, T_P, "b", DENS_F10H_X, DENS_F10H_Y, HIST_F10H_X, HIST_F10H_Y, STIM_10, "NGF high"),
    (2, 2, F_S_HIGH, F_S_HIGH_AVG, T_S, "b", DENS_FSH_X, DENS_FSH_Y, HIST_FSH_X, HIST_FSH_Y, STIM_SUST, "NGF high"),
    (3, 0, F_P3_LOW, F_P3_LOW_AVG, T_P, "r", DENS_F3L_X, DENS_F3L_Y, None, None, STIM_3, "NGF low"),
    (3, 1, F_P10_LOW, F_P10_LOW_AVG, T_P, "r", DENS_F10L_X, DENS_F10L_Y, None, None, STIM_10, "NGF low"),
    (3, 2, F_S_LOW, F_S_LOW_AVG, T_S, "r", DENS_FSL_X, DENS_FSL_Y, HIST_FSL_X, HIST_FSL_Y, STIM_SUST, "NGF low"),
]
EF_YR = [-0.09, 1.11]
STIM_LEVEL = -0.045
for (ri, ci, traces, avg, tt, col, dx, dy, hx, hy, stim, label) in EF_PANELS:
    t, b = EF_ROWS[ri]
    ml, mr, dl, dr = EF_COLS[ci]
    cell_c = CELL_BLUE if col == "b" else CELL_RED
    avg_c = AVG_BLUE if col == "b" else AVG_RED
    dens_c = DENS_BLUE if col == "b" else DENS_RED
    hist_c = HIST_BLUE if col == "b" else HIST_RED
    xkw = dict(tickvals=[0, 20, 40, 60], showticklabels=(ri == 3),
               tickfont=dict(size=9, color="#111", family=FONT))
    ykw = dict(tickvals=[0, 0.5, 1], showticklabels=(ci == 0),
               tickfont=dict(size=9, color="#111", family=FONT))
    xa, ya = make_axes(ml, mr, t, b, [-1, 60], EF_YR, xkw, ykw)
    for tr in traces:
        fig.add_trace(go.Scatter(x=tt, y=tr, mode="lines", xaxis=xa, yaxis=ya,
                                 line=dict(color=cell_c, width=1, shape="spline", smoothing=0.7),
                                 hoverinfo="skip"))
    fig.add_trace(go.Scatter(x=tt, y=avg, mode="lines", xaxis=xa, yaxis=ya,
                             line=dict(color=avg_c, width=2, dash="dash", shape="spline", smoothing=0.7),
                             hoverinfo="skip"))
    fig.add_trace(go.Scatter(x=stim, y=[STIM_LEVEL, STIM_LEVEL], mode="lines", xaxis=xa, yaxis=ya,
                             line=dict(color="#000", width=4), hoverinfo="skip"))
    ANN.append(dict(x=0.5, y=0.905, xref=xa + " domain", yref=ya + " domain", text=label,
                    showarrow=False, font=dict(size=9, color="#111", family=FONT)))
    # density panel
    dkw = dict(linecolor="#666", tickcolor="#666")
    dxkw = dict(dkw, tickvals=[0.5])
    dykw = dict(dkw, tickvals=[0, 0.5, 1])
    xa2, ya2 = make_axes(dl, dr, t, b, [0, 1.0], EF_YR, dxkw, dykw)
    if hx is not None:
        fig.add_trace(go.Scatter(x=hx, y=hy, mode="lines", xaxis=xa2, yaxis=ya2,
                                 line=dict(color=hist_c, width=1, shape="vh"), hoverinfo="skip"))
    fig.add_trace(go.Scatter(x=dx, y=dy, mode="lines", xaxis=xa2, yaxis=ya2,
                             line=dict(color=dens_c, width=2, shape="spline", smoothing=0.5),
                             hoverinfo="skip"))
    if ci == 0:
        txt(97, (t + b) / 2, "ERK* (a.u.)", 9, angle=-90)
    if ri == 3:
        txt((ml + mr) / 2, 864, "Time (min)", 9)
        txt((dl + dr) / 2, 853, "Density", 9)
        txt((dl + dr) / 2, 864, "at 40 min", 9)

poly([(123, 876), (155, 876)], "#111", 1.8, "dash")
txt(157, 876, "\u00b7population average", 8.5, xanchor="left")

fig.update_layout(**AXES)
fig.update_layout(
    width=W, height=H,
    margin=dict(l=0, r=0, t=0, b=0, autoexpand=False),
    paper_bgcolor="white", plot_bgcolor="white",
    showlegend=False,
    font=dict(family=FONT, size=9, color="#111"),
    annotations=ANN, shapes=SHAPES,
)
fig.write_html("out.html",
               config={"displayModeBar": False, "staticPlot": True},
               post_script="document.body.style.margin='0px';document.body.style.padding='0px';"
                           "document.body.style.overflow='hidden';")
